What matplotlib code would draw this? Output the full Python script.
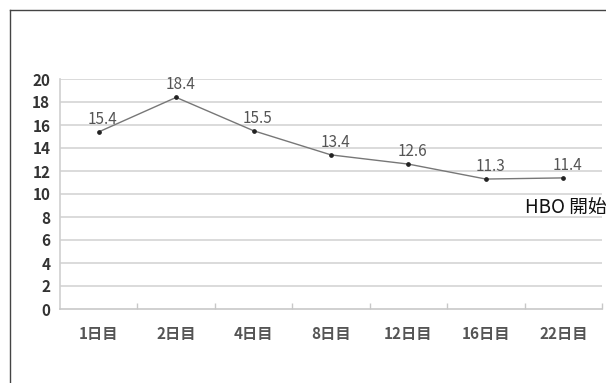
import matplotlib
matplotlib.use("Agg")
import matplotlib.pyplot as plt
from matplotlib.lines import Line2D

plt.rcParams['font.family'] = ['Noto Sans CJK JP', 'DejaVu Sans']

categories = ["1日目", "2日目", "4日目", "8日目", "12日目", "16日目", "22日目"]
values = [15.4, 18.4, 15.5, 13.4, 12.6, 11.3, 11.4]
value_labels = ["15.4", "18.4", "15.5", "13.4", "12.6", "11.3", "11.4"]
yticks = [0, 2, 4, 6, 8, 10, 12, 14, 16, 18, 20]
annotation = "HBO 開始"

W, H = 606, 383
fig = plt.figure(figsize=(W / 100, H / 100), dpi=100)
fig.patch.set_facecolor("white")

# outer frame (left and top only)
fig.add_artist(Line2D([10 / W, 10 / W], [0, 1 - 10 / H], color="#444444", lw=1.0))
fig.add_artist(Line2D([10 / W, 1], [1 - 10 / H, 1 - 10 / H], color="#444444", lw=1.0))

ax = fig.add_axes([60 / W, 1 - 309 / H, (602 - 60) / W, (309 - 79) / H])
n = len(categories)
x = list(range(n))
ax.set_xlim(-0.5, n - 0.5)
ax.set_ylim(0, 20)

for yv in yticks[1:]:
    ax.axhline(yv, color="#d4d4d4", lw=1.2, zorder=0)

for s in ["top", "right"]:
    ax.spines[s].set_visible(False)
ax.spines["left"].set_color("#cfcfcf")
ax.spines["bottom"].set_color("#c8c8c8")
ax.spines["left"].set_linewidth(1.2)
ax.spines["bottom"].set_linewidth(1.2)

ax.set_yticks(yticks)
ax.set_yticklabels([str(v) for v in yticks], fontsize=11, color="#333333",
                   fontweight="bold")
ax.tick_params(axis="y", length=0, pad=7)

ax.set_xticks([i + 0.5 for i in range(n - 1)] + [n - 0.5], minor=False)
ax.set_xticklabels([])
ax.tick_params(axis="x", direction="in", length=4, color="#c8c8c8", width=1.0)
ax.set_xticks(x, minor=True)
ax.set_xticklabels(categories, minor=True, fontsize=11, color="#555555",
                   fontweight="bold")
ax.tick_params(axis="x", which="minor", length=0, pad=12)

ax.plot(x, values, color="#777777", lw=1.0, zorder=3)
ax.plot(x, values, "o", color="#222222", ms=2.4, zorder=4)

for xi, v, lab in zip(x, values, value_labels):
    ax.annotate(lab, (xi, v), xytext=(3, 3), textcoords="offset points",
                ha="center", va="bottom", fontsize=11, color="#555555")

fig.text(525 / W, 1 - 207 / H, annotation, fontsize=13.5, color="#111111",
         ha="left", va="center")

fig.savefig("out.png", dpi=100, facecolor="white")
